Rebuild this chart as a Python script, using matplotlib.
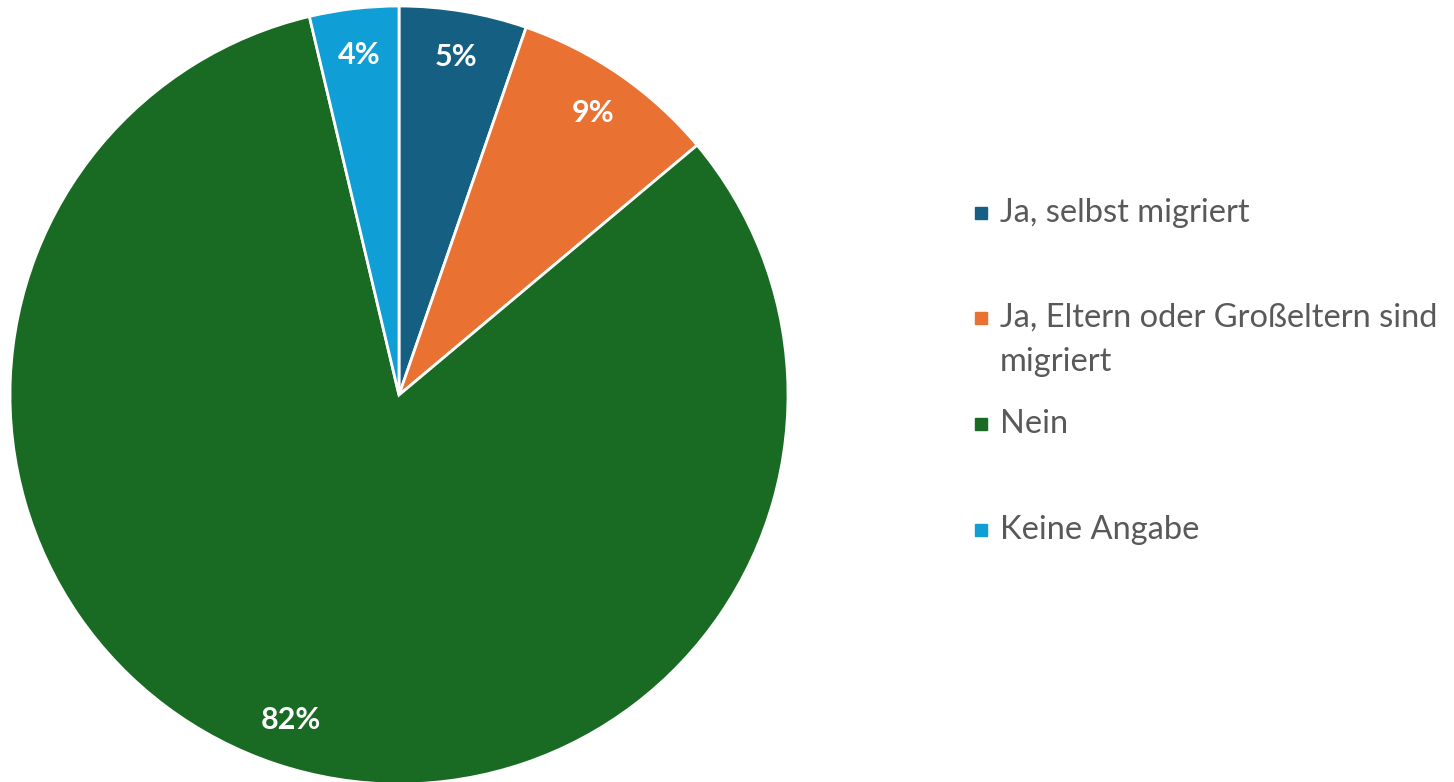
import matplotlib.pyplot as plt
from matplotlib.patches import Rectangle

labels = ["Ja, selbst migriert", "Ja, Eltern oder Großeltern sind\nmigriert", "Nein", "Keine Angabe"]
values = [5.3, 8.6, 82.4, 3.7]
colors = ["#156082", "#E97132", "#196B24", "#0F9ED5"]


def main():
    plt.rcParams["font.family"] = ["Lato", "DejaVu Sans"]
    W, H = 1454, 782
    fig = plt.figure(figsize=(W / 100, H / 100), dpi=100)

    # pie axes: centre (399, 395), radius ~389 px
    cx, cy, r = 399, 395, 389
    ax = fig.add_axes([(cx - r) / W, (H - cy - r) / H, 2 * r / W, 2 * r / H])
    wedges, texts, autotexts = ax.pie(
        values, colors=colors, startangle=90, counterclock=False,
        autopct="%.0f%%", pctdistance=0.88,
        wedgeprops=dict(edgecolor="white", linewidth=2),
        textprops=dict(color="white", fontsize=22, fontweight="bold"),
    )
    ax.set_aspect("equal")
    ax.set_xlim(-1, 1)
    ax.set_ylim(-1, 1)
    ax.axis("off")

    # legend drawn by hand so the two-line entry keeps the square on its first line
    ys = [213, 318, 424, 530]
    sq = 12
    for lab, col, y in zip(labels, colors, ys):
        fig.patches.append(Rectangle((975 / W, (H - y - sq / 2) / H), sq / W, sq / H,
                                     transform=fig.transFigure, color=col))
        for i, line in enumerate(lab.split("\n")):
            fig.text(1000 / W, (H - y - 44 * i) / H, line, color="#595959",
                     fontsize=23.5, va="center", ha="left")

    fig.savefig("out.png", dpi=100)


if __name__ == "__main__":
    main()
